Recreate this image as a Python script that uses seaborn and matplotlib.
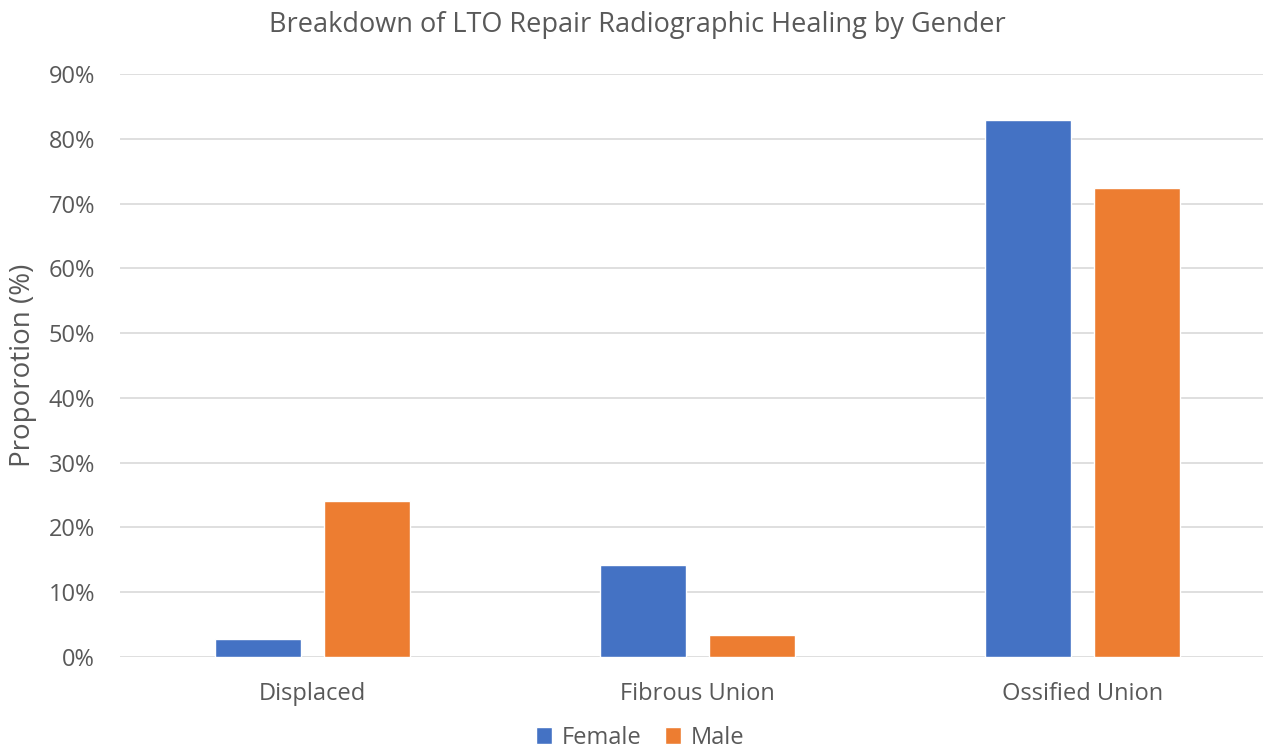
import pandas as pd
import matplotlib.pyplot as plt
import seaborn as sns
from matplotlib.ticker import PercentFormatter

# Data
categories = ['Displaced', 'Fibrous Union', 'Ossified Union']
female = [2.8, 14.2, 82.9]
male = [24.1, 3.4, 72.4]

df = pd.DataFrame({
    'category': categories * 2,
    'gender': ['Female'] * 3 + ['Male'] * 3,
    'value': female + male,
})

sns.set_theme(style='white')
plt.rcParams['font.family'] = ['Open Sans', 'DejaVu Sans']
text_color = '#595959'

fig = plt.figure(figsize=(12.63, 7.52), dpi=100)
ax = fig.add_axes([120 / 1263, 1 - 657 / 752, (1263 - 120) / 1263, (657 - 74) / 752])

sns.barplot(data=df, x='category', y='value', hue='gender',
            palette={'Female': '#4472C4', 'Male': '#ED7D31'},
            saturation=1, width=0.566, gap=0.21, ax=ax, legend=True)

ax.set_ylim(0, 90)
ax.set_xlim(-0.5, 2.47)
ax.set_yticks(range(0, 91, 10))
ax.yaxis.set_major_formatter(PercentFormatter(decimals=0))
ax.yaxis.grid(True, color='#D9D9D9', linewidth=1.2)
ax.set_axisbelow(True)
for s in ax.spines.values():
    s.set_visible(False)
ax.tick_params(axis='both', length=0, labelsize=17, colors=text_color)
ax.tick_params(axis='y', pad=18)
ax.tick_params(axis='x', pad=18)
ax.set_xlabel('')
ax.set_ylabel('Proporotion (%)', fontsize=20, color=text_color, labelpad=8)

fig.suptitle('Breakdown of LTO Repair Radiographic Healing by Gender',
             x=637 / 1263, y=1 - 25 / 752, va='center',
             fontsize=19.5, color=text_color)

ax.legend(loc='center', bbox_to_anchor=(640 / 1263, 1 - 738 / 752),
          bbox_transform=fig.transFigure, ncol=2, frameon=False,
          fontsize=17, handlelength=0.7, handleheight=0.7,
          columnspacing=1.0, handletextpad=0.4, labelcolor=text_color)

fig.savefig('out.png', dpi=100)
